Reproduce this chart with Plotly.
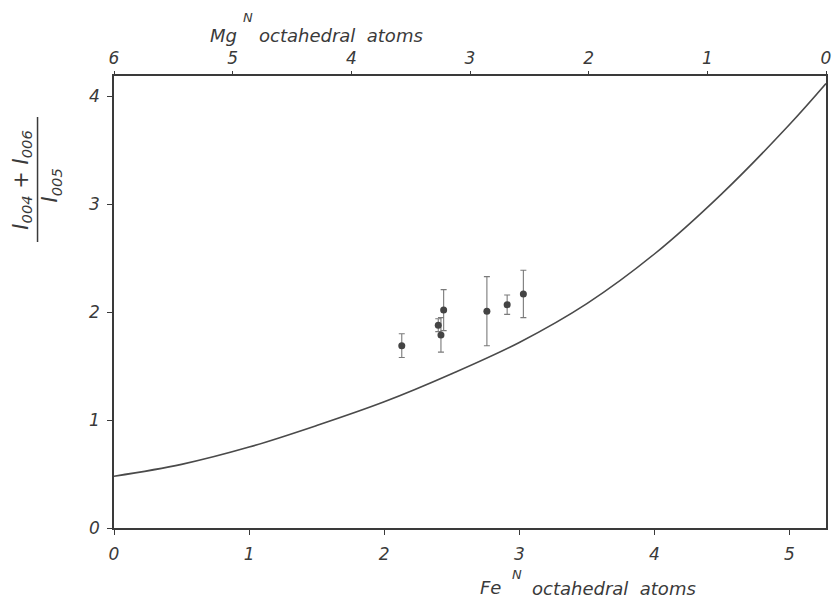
import plotly.graph_objects as go

# ---- data ----
curve_fe = [0.0, 0.5, 1.0, 1.5, 2.0, 2.5, 3.0, 3.5, 4.0, 4.5, 5.0, 5.27]
curve_ratio = [0.48, 0.59, 0.75, 0.95, 1.17, 1.43, 1.72, 2.08, 2.54, 3.10, 3.74, 4.12]

obs_fe = [2.13, 2.44, 2.40, 2.42, 2.76, 2.91, 3.03]
obs_ratio = [1.69, 2.02, 1.88, 1.79, 2.01, 2.07, 2.17]
obs_err = [0.11, 0.19, 0.06, 0.16, 0.32, 0.09, 0.22]

fe_ticks = [0, 1, 2, 3, 4, 5]
mg_ticks = [0, 1, 2, 3, 4, 5, 6]
y_ticks = [0, 1, 2, 3, 4]

# ---- layout geometry (pixels); page body has an 8px margin ----
OFF = 8
W, H = 840 - OFF, 602 - OFF
L, T = 114 - OFF, 76 - OFF
PW, PH = 717, 452
R, B = W - L - PW, H - T - PH

def px(xs):  # screen x -> paper fraction
    return (xs - OFF - L) / PW

def py(ys):  # screen y -> paper fraction
    return (T + PH - (ys - OFF)) / PH

INK = "#3a3a3a"
FONT = "DejaVu Sans"

fig = go.Figure()
fig.add_trace(go.Scatter(
    x=curve_fe, y=curve_ratio, mode="lines",
    line=dict(color="#4a4a4a", width=1.6, shape="spline", smoothing=1.0),
    hoverinfo="skip", showlegend=False))
fig.add_trace(go.Scatter(
    x=obs_fe, y=obs_ratio, mode="markers",
    marker=dict(color="#444444", size=7),
    error_y=dict(type="data", array=obs_err, visible=True,
                 color="#7a7a7a", thickness=1.1, width=3),
    showlegend=False))
# invisible trace to activate top axis
fig.add_trace(go.Scatter(x=[6, 0], y=[None, None], xaxis="x2", mode="markers",
                         showlegend=False, hoverinfo="skip"))

tickfont = dict(family=FONT, size=17, color=INK, style="italic")
fig.update_layout(
    width=W, height=H,
    margin=dict(l=L, r=R, t=T, b=B, pad=0),
    paper_bgcolor="white", plot_bgcolor="white",
    xaxis=dict(range=[0, 5.27], tickvals=fe_ticks, showgrid=False, zeroline=False,
               showline=True, linecolor=INK, linewidth=1.6,
               ticks="outside", ticklen=5, tickcolor=INK, tickwidth=1.2,
               tickfont=tickfont, ticklabelstandoff=5),
    xaxis2=dict(range=[6, 0], tickvals=mg_ticks, overlaying="x", side="top",
                showgrid=False, zeroline=False,
                showline=True, linecolor=INK, linewidth=1.6,
                ticks="outside", ticklen=3, tickcolor=INK, tickwidth=1.2,
                tickfont=tickfont, ticklabelstandoff=0),
    yaxis=dict(range=[0, 4.19], tickvals=y_ticks, showgrid=False, zeroline=False,
               showline=True, mirror=True, linecolor=INK, linewidth=1.6,
               ticks="outside", ticklen=5, tickcolor=INK, tickwidth=1.2,
               tickfont=tickfont, ticklabelstandoff=4),
)

titlefont = dict(family=FONT, size=18, color=INK, style="italic")
supfont = dict(family=FONT, size=13, color=INK, style="italic")
fracfont = dict(family=FONT, size=21, color=INK, style="italic")

def ann(text, xs, ys, font, xanchor="center", angle=0):
    fig.add_annotation(text=text, xref="paper", yref="paper", x=px(xs), y=py(ys),
                       xanchor=xanchor, yanchor="middle", showarrow=False,
                       font=font, textangle=angle)

# top title
ann("Mg", 224, 35, titlefont)
ann("N", 249, 18, supfont)
ann("octahedral&nbsp;&nbsp;atoms", 258, 35, titlefont, xanchor="left")
# bottom title
ann("Fe", 493, 587, titlefont)
ann("N", 520, 574, supfont)
ann("octahedral&nbsp;&nbsp;atoms", 533, 588, titlefont, xanchor="left")

# y-axis fraction title
ann("I<sub>004</sub> + I<sub>006</sub>", 21, 180, fracfont, angle=-90)
ann("I<sub>005</sub>", 51, 185, fracfont, angle=-90)
fig.add_shape(type="line", xref="paper", yref="paper",
              x0=px(37), x1=px(37), y0=py(117), y1=py(242),
              line=dict(color=INK, width=1.5))

fig.write_html("out.html")
